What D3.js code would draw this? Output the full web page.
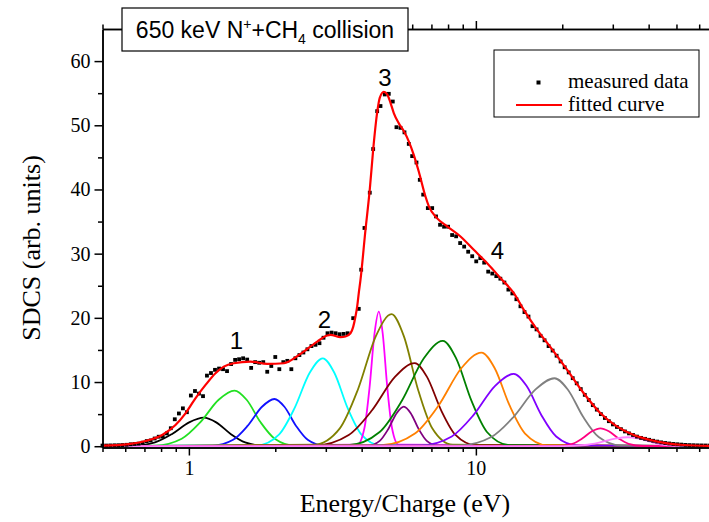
<!DOCTYPE html>
<html><head><meta charset="utf-8">
<script src="https://cdn.jsdelivr.net/npm/d3@7"></script>
<style>body{margin:0;background:#fff}</style>
</head><body>
<svg id="chart" width="709" height="522"></svg>
<script>
// ---------- DATA ----------
const dataE = [0.500,0.516,0.533,0.551,0.569,0.587,0.607,0.627,0.647,0.668,
0.690,0.713,0.736,0.760,0.785,0.811,0.838,0.865,0.893,0.923,
0.953,0.984,1.016,1.050,1.084,1.120,1.156,1.194,1.233,1.274,
1.315,1.358,1.403,1.449,1.496,1.545,1.596,1.648,1.702,1.758,
1.816,1.875,1.937,2.000,2.066,2.133,2.203,2.275,2.350,2.427,
2.506,2.588,2.673,2.761,2.851,2.945,3.041,3.141,3.244,3.350,
3.460,3.573,3.737,3.908,3.985,4.091,4.269,4.387,4.530,4.652,
4.815,4.972,5.134,5.288,5.462,5.639,5.837,5.998,6.209,6.376,
6.553,6.801,7.043,7.264,7.502,7.748,8.002,8.264,8.535,8.815,
9.104,9.402,9.711,10.03,10.36,10.69,11.04,11.41,11.78,12.17,
12.57,12.98,13.40,13.84,14.30,14.77,15.25,15.75,16.27,16.80,
17.35,17.92,18.51,19.11,19.74,20.39,21.06,21.75,22.46,23.20,
23.96,24.74,25.55,26.39,27.26,28.15,29.07,30.03,31.01,32.03,
33.08,34.16,35.28,36.44,37.63,38.87,40.14,41.46,42.82,44.22,
45.67,47.17,48.71,50.31,51.96,53.66,55.42,57.24,59.11,61.05,
63.05,65.12];
const dataV = [0.10,0.10,0.12,0.14,0.15,0.18,0.22,0.30,0.35,0.40,
0.55,0.80,0.90,1.20,1.48,1.50,2.00,2.80,4.20,5.10,
5.90,5.30,7.90,8.60,8.20,7.80,11.0,11.4,11.9,12.1,
12.0,11.7,12.8,13.45,13.55,13.7,13.5,12.2,13.1,13.0,
13.1,11.6,12.5,13.9,12.0,13.1,13.3,12.0,13.7,14.2,
14.6,15.1,15.6,15.8,16.05,16.9,17.6,17.7,17.6,17.45,
17.5,17.6,19.95,21.4,27.5,34.0,39.5,46.3,52.2,53.0,
54.8,54.9,53.7,49.7,49.6,48.9,47.1,45.2,44.2,41.5,
39.2,37.1,37.1,35.8,34.5,34.2,34.2,32.9,32.7,31.65,
31.1,30.3,29.6,28.8,29.3,28.6,27.2,26.9,26.5,26.1,
25.5,24.4,23.8,22.9,21.8,20.9,20.2,18.7,18.2,17.2,
16.5,15.6,14.9,14.1,13.2,12.3,11.5,10.6,9.8,8.9,
8.0,7.2,6.4,5.7,5.0,4.4,3.9,3.4,3.0,2.65,
2.3,2.0,1.75,1.5,1.3,1.15,1.0,0.85,0.72,0.6,
0.5,0.42,0.35,0.30,0.25,0.20,0.17,0.15,0.13,0.12,
0.11,0.10];

const fitE = [0.5,0.617,0.706,0.807,0.898,0.973,1.054,1.143,1.238,1.323,1.434,1.639,1.874,2.141,2.448,2.800,3.033,3.114,3.375,3.513,3.657,3.737,3.806,3.859,3.908,3.962,4.124,4.269,4.387,4.530,4.627,4.777,4.909,5.041,5.176,5.388,5.608,5.837,6.075,6.324,6.674,6.853,7.333,7.943,8.838,9.833,10.95,12.18,13.56,14.69,16.36,18.19,20.80,23.77,27.18,31.07,35.50,40.58,46.41,53.03,70];
const fitV = [0.10,0.34,0.81,1.75,3.3,5.13,7.47,9.55,11.37,12.4,12.93,13.18,12.82,12.93,14.38,16.3,17.24,17.35,17.0,17.1,17.6,18.6,20.2,21.8,23.85,25.9,33.7,40.0,46.2,52.0,54.3,55.2,54.8,53.5,51.9,50.3,49.1,47.5,45.4,42.8,38.9,37.4,35.5,34.24,32.68,30.6,28.5,26.2,23.85,21.25,18.13,15.43,11.9,8.25,5.13,3.04,1.75,0.97,0.45,0.19,0.04];

// fitted peak components (energy in eV, SDCS)
const comp1E = [0.5,0.627,0.762,0.874,1.002,1.127,1.245,1.398,1.570,1.854,70];
const comp1V = [0,0.049,0.602,1.912,3.717,4.45,3.717,1.912,0.602,0.049,0];
const comp2E = [0.5,0.764,0.944,1.095,1.270,1.442,1.589,1.778,1.991,2.339,70];
const comp2V = [0,0.096,1.172,3.720,7.234,8.66,7.234,3.720,1.172,0.096,0];
const comp3E = [0.5,1.208,1.426,1.601,1.798,1.986,2.152,2.363,2.594,2.965,70];
const comp3V = [0,0.082,0.996,3.162,6.148,7.36,6.148,3.162,0.996,0.082,0];
const comp4E = [0.5,1.732,2.064,2.332,2.636,2.928,3.212,3.578,3.987,4.652,70];
const comp4V = [0,0.152,1.854,5.886,11.44,13.7,11.44,5.886,1.854,0.152,0];
const comp5E = [0.5,3.862,4.090,4.258,4.433,4.589,4.737,4.916,5.102,5.379,70];
const comp5V = [0,0.233,2.839,9.013,17.52,20.98,17.52,9.013,2.839,0.233,0];
const comp6E = [0.5,2.729,3.357,3.882,4.487,5.082,5.606,6.285,7.047,8.299,70];
const comp6V = [0,0.228,2.784,8.841,17.19,20.58,17.19,8.841,2.784,0.228,0];
const comp7E = [0.5,2.767,3.606,4.340,5.224,6.124,6.755,7.576,8.492,10.0,70];
const comp7V = [0,0.144,1.749,5.555,10.80,12.93,10.80,5.555,1.749,0.144,0];
const comp8E = [0.5,4.198,4.624,4.948,5.295,5.610,5.929,6.324,6.745,7.396,70];
const comp8V = [0,0.068,0.833,2.646,5.145,6.16,5.145,2.646,0.833,0.068,0];
const comp9E = [0.5,3.587,4.621,5.516,6.588,7.670,8.529,9.656,10.93,13.06,70];
const comp9V = [0,0.182,2.220,7.050,13.71,16.41,13.71,7.050,2.220,0.182,0];
const comp10E = [0.5,4.694,6.132,7.393,8.912,10.46,11.62,13.13,14.84,17.68,70];
const comp10V = [0,0.162,1.974,6.268,12.19,14.59,12.19,6.268,1.974,0.162,0];
const comp11E = [0.5,6.427,8.241,9.808,11.67,13.55,15.01,16.92,19.05,22.59,70];
const comp11V = [0,0.125,1.523,4.837,9.405,11.26,9.405,4.837,1.523,0.125,0];
const comp12E = [0.5,8.79,11.32,13.52,16.14,18.79,20.90,23.67,26.79,31.99,70];
const comp12V = [0,0.118,1.433,4.549,8.846,10.59,8.846,4.549,1.433,0.118,0];
const comp13E = [0.5,19.36,21.68,23.46,25.39,27.16,29.06,31.45,34.04,38.11,70];
const comp13V = [0,0.031,0.377,1.199,2.330,2.79,2.330,1.199,0.377,0.031,0];
const comp14E = [0.5,20.18,23.99,27.07,30.55,33.88,37.07,41.16,45.71,53.09,70];
const comp14V = [0,0.016,0.189,0.601,1.169,1.4,1.169,0.601,0.189,0.016,0];

const xMajorTicks = [1, 10];
const xMinorTicks = [0.5,0.6,0.7,0.8,0.9,2,3,4,5,6,7,8,9,20,30,40,50,60,70];
const yMajorTicks = [0,10,20,30,40,50,60];
const yMinorTicks = [5,15,25,35,45,55];

const peakLabels = ["1","2","3","4"];
const peakLabelE = [1.465, 2.968, 4.825, 11.89];
const peakLabelV = [15.14, 18.41, 56.11, 29.16];

const legendLabels = ["measured data", "fitted curve"];

// ---------- DRAWING ----------
const svg = d3.select("#chart");
const x = d3.scaleLog().domain([0.5, 70]).range([102.5, 718.4]);
const y = d3.scaleLinear().domain([-0.2, 65]).range([447.5, 29]);

const components = [
  [comp1E, comp1V], [comp2E, comp2V], [comp3E, comp3V], [comp4E, comp4V],
  [comp5E, comp5V], [comp6E, comp6V], [comp7E, comp7V], [comp8E, comp8V],
  [comp9E, comp9V], [comp10E, comp10V], [comp11E, comp11V], [comp12E, comp12V],
  [comp13E, comp13V], [comp14E, comp14V]
];
const compColors = ["#000000","#22e022","#1010ff","#00ffff","#ff00ff","#808000",
  "#800000","#800080","#008000","#ff8000","#8000ff","#808080","#ff0080","#ff80ff"];

const line = d3.line().x(d => x(d[0])).y(d => y(d[1])).curve(d3.curveMonotoneX);

const gMarks = svg.append("g");
components.forEach((c, i) => {
  const pts = c[0].map((e, j) => [e, c[1][j]]);
  gMarks.append("path").attr("d", line(pts)).attr("fill", "none")
    .attr("stroke", compColors[i]).attr("stroke-width", 1.8);
});

// measured data
const sq = 3.8;
gMarks.selectAll("rect.pt").data(dataE.map((e, i) => [e, dataV[i]])).enter()
  .append("rect").attr("class", "pt")
  .attr("x", d => x(d[0]) - sq / 2).attr("y", d => y(d[1]) - sq / 2)
  .attr("width", sq).attr("height", sq).attr("fill", "#000");

// fitted curve
gMarks.append("path").attr("d", line(fitE.map((e, i) => [e, fitV[i]])))
  .attr("fill", "none").attr("stroke", "#ff0000").attr("stroke-width", 2.2);

// axes
function styleAxis(g, size) {
  g.selectAll("path.domain").attr("stroke", "#000").attr("stroke-width", 1.5);
  g.selectAll(".tick line").attr("stroke", "#000").attr("stroke-width", 1.5);
  g.attr("font-family", "'Liberation Serif', 'Times New Roman', serif").attr("font-size", size);
  g.selectAll(".tick text").attr("fill", "#000");
}
const x0 = 447.5, yTop = 29;
const gxMin = svg.append("g").attr("transform", `translate(0,${x0})`)
  .call(d3.axisBottom(x).tickValues(xMinorTicks).tickSize(4.5).tickSizeOuter(0).tickFormat(""));
styleAxis(gxMin, 20);
const gxMaj = svg.append("g").attr("transform", `translate(0,${x0})`)
  .call(d3.axisBottom(x).tickValues(xMajorTicks).tickSize(8).tickSizeOuter(0).tickPadding(5).tickFormat(d3.format("d")));
styleAxis(gxMaj, 20);
const gtMin = svg.append("g").attr("transform", `translate(0,${yTop})`)
  .call(d3.axisTop(x).tickValues(xMinorTicks).tickSize(4.5).tickSizeOuter(0).tickFormat(""));
styleAxis(gtMin, 20);
const gtMaj = svg.append("g").attr("transform", `translate(0,${yTop})`)
  .call(d3.axisTop(x).tickValues(xMajorTicks).tickSize(8).tickSizeOuter(0).tickFormat(""));
styleAxis(gtMaj, 20);
const gyMin = svg.append("g").attr("transform", `translate(102.5,0)`)
  .call(d3.axisLeft(y).tickValues(yMinorTicks).tickSize(4.5).tickSizeOuter(0).tickFormat(""));
styleAxis(gyMin, 20);
const gyMaj = svg.append("g").attr("transform", `translate(102.5,0)`)
  .call(d3.axisLeft(y).tickValues(yMajorTicks).tickSize(8).tickSizeOuter(0).tickPadding(4).tickFormat(d3.format("d")));
styleAxis(gyMaj, 20);

// axis titles
svg.append("text").attr("x", 405).attr("y", 512).attr("text-anchor", "middle")
  .attr("font-family", "'Liberation Serif', 'Times New Roman', serif").attr("font-size", 26)
  .text("Energy/Charge (eV)");
svg.append("text").attr("transform", "translate(40,248) rotate(-90)").attr("text-anchor", "middle")
  .attr("font-family", "'Liberation Serif', 'Times New Roman', serif").attr("font-size", 26)
  .text("SDCS (arb. units)");

// peak labels
peakLabels.forEach((t, i) => {
  svg.append("text").attr("x", x(peakLabelE[i])).attr("y", y(peakLabelV[i]))
    .attr("text-anchor", "middle").attr("font-family", "'Liberation Sans', Arial, sans-serif")
    .attr("font-size", 24).text(t);
});

// title box
svg.append("rect").attr("x", 122).attr("y", 8).attr("width", 286).attr("height", 43)
  .attr("fill", "#fff").attr("stroke", "#000").attr("stroke-width", 1.2);
const tt = svg.append("text").attr("x", 265).attr("y", 37.5).attr("text-anchor", "middle")
  .attr("font-family", "'Liberation Sans', Arial, sans-serif").attr("font-size", 23);
tt.append("tspan").text("650 keV N");
tt.append("tspan").attr("font-size", 14).attr("dy", -9).text("+");
tt.append("tspan").attr("dy", 9).text("+CH");
tt.append("tspan").attr("font-size", 14).attr("dy", 6).text("4");
tt.append("tspan").attr("dy", -6).text(" collision");

// legend
svg.append("rect").attr("x", 494).attr("y", 50).attr("width", 205).attr("height", 67)
  .attr("fill", "#fff").attr("stroke", "#000").attr("stroke-width", 1);
svg.append("rect").attr("x", 536.5).attr("y", 80.5).attr("width", 4).attr("height", 4).attr("fill", "#000");
svg.append("line").attr("x1", 516).attr("x2", 562).attr("y1", 105).attr("y2", 105)
  .attr("stroke", "#ff0000").attr("stroke-width", 2.2);
svg.append("text").attr("x", 568).attr("y", 88).attr("font-family", "'Liberation Serif', 'Times New Roman', serif")
  .attr("font-size", 21).text(legendLabels[0]);
svg.append("text").attr("x", 568).attr("y", 111).attr("font-family", "'Liberation Serif', 'Times New Roman', serif")
  .attr("font-size", 21).text(legendLabels[1]);
</script>
</body></html>
